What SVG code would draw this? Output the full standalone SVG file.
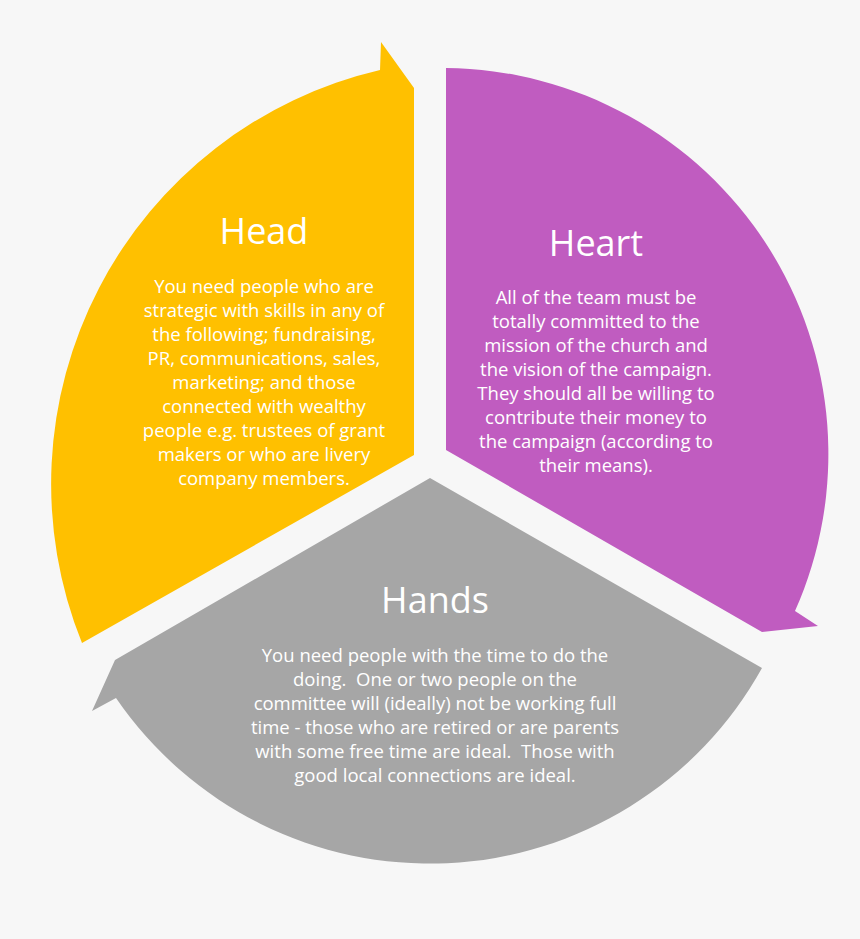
<svg xmlns="http://www.w3.org/2000/svg" width="860" height="939" viewBox="0 0 860 939">
<style>
.t{font-family:"Open Sans","Noto Sans",sans-serif;fill:#fff;text-anchor:middle}
.h{font-size:36px}
.b{font-size:18.5px}
</style>
<rect width="860" height="939" fill="#f7f7f7"/>
<g id="head">
<path d="M82,643 A425,425 0 0 1 380,70 L381,42 L414,88 L414,455 Z" fill="#ffc000"/>
<text class="t h" x="264" y="244">Head</text>
<text class="t b"><tspan x="264" y="293">You need people who are</tspan><tspan x="264" y="317">strategic with skills in any of</tspan><tspan x="264" y="341">the following; fundraising,</tspan><tspan x="264" y="365">PR, communications, sales,</tspan><tspan x="264" y="389">marketing; and those</tspan><tspan x="264" y="413">connected with wealthy</tspan><tspan x="264" y="437">people e.g. trustees of grant</tspan><tspan x="264" y="461">makers or who are livery</tspan><tspan x="264" y="485">company members.</tspan></text>
</g>
<g id="heart">
<path d="M446,68 A386,386 0 0 1 795,611 L818,626 L762,632 L446,450 Z" fill="#c05cc0"/>
<text class="t h" x="596" y="256">Heart</text>
<text class="t b"><tspan x="596" y="304">All of the team must be</tspan><tspan x="596" y="328">totally committed to the</tspan><tspan x="596" y="352">mission of the church and</tspan><tspan x="596" y="376">the vision of the campaign.</tspan><tspan x="596" y="400">They should all be willing to</tspan><tspan x="596" y="424">contribute their money to</tspan><tspan x="596" y="448">the campaign (according to</tspan><tspan x="596" y="472">their means).</tspan></text>
</g>
<g id="hands">
<path d="M762,668 A380,380 0 0 1 116,698 L92,711 L115,660 L430,478 Z" fill="#a6a6a6"/>
<text class="t h" x="435" y="613">Hands</text>
<text class="t b" xml:space="preserve"><tspan x="435" y="662">You need people with the time to do the</tspan><tspan x="435" y="686">doing.  One or two people on the</tspan><tspan x="435" y="710">committee will (ideally) not be working full</tspan><tspan x="435" y="734">time - those who are retired or are parents</tspan><tspan x="435" y="758">with some free time are ideal.  Those with</tspan><tspan x="435" y="782">good local connections are ideal.</tspan></text>
</g>
<g id="connectors"/>
</svg>
